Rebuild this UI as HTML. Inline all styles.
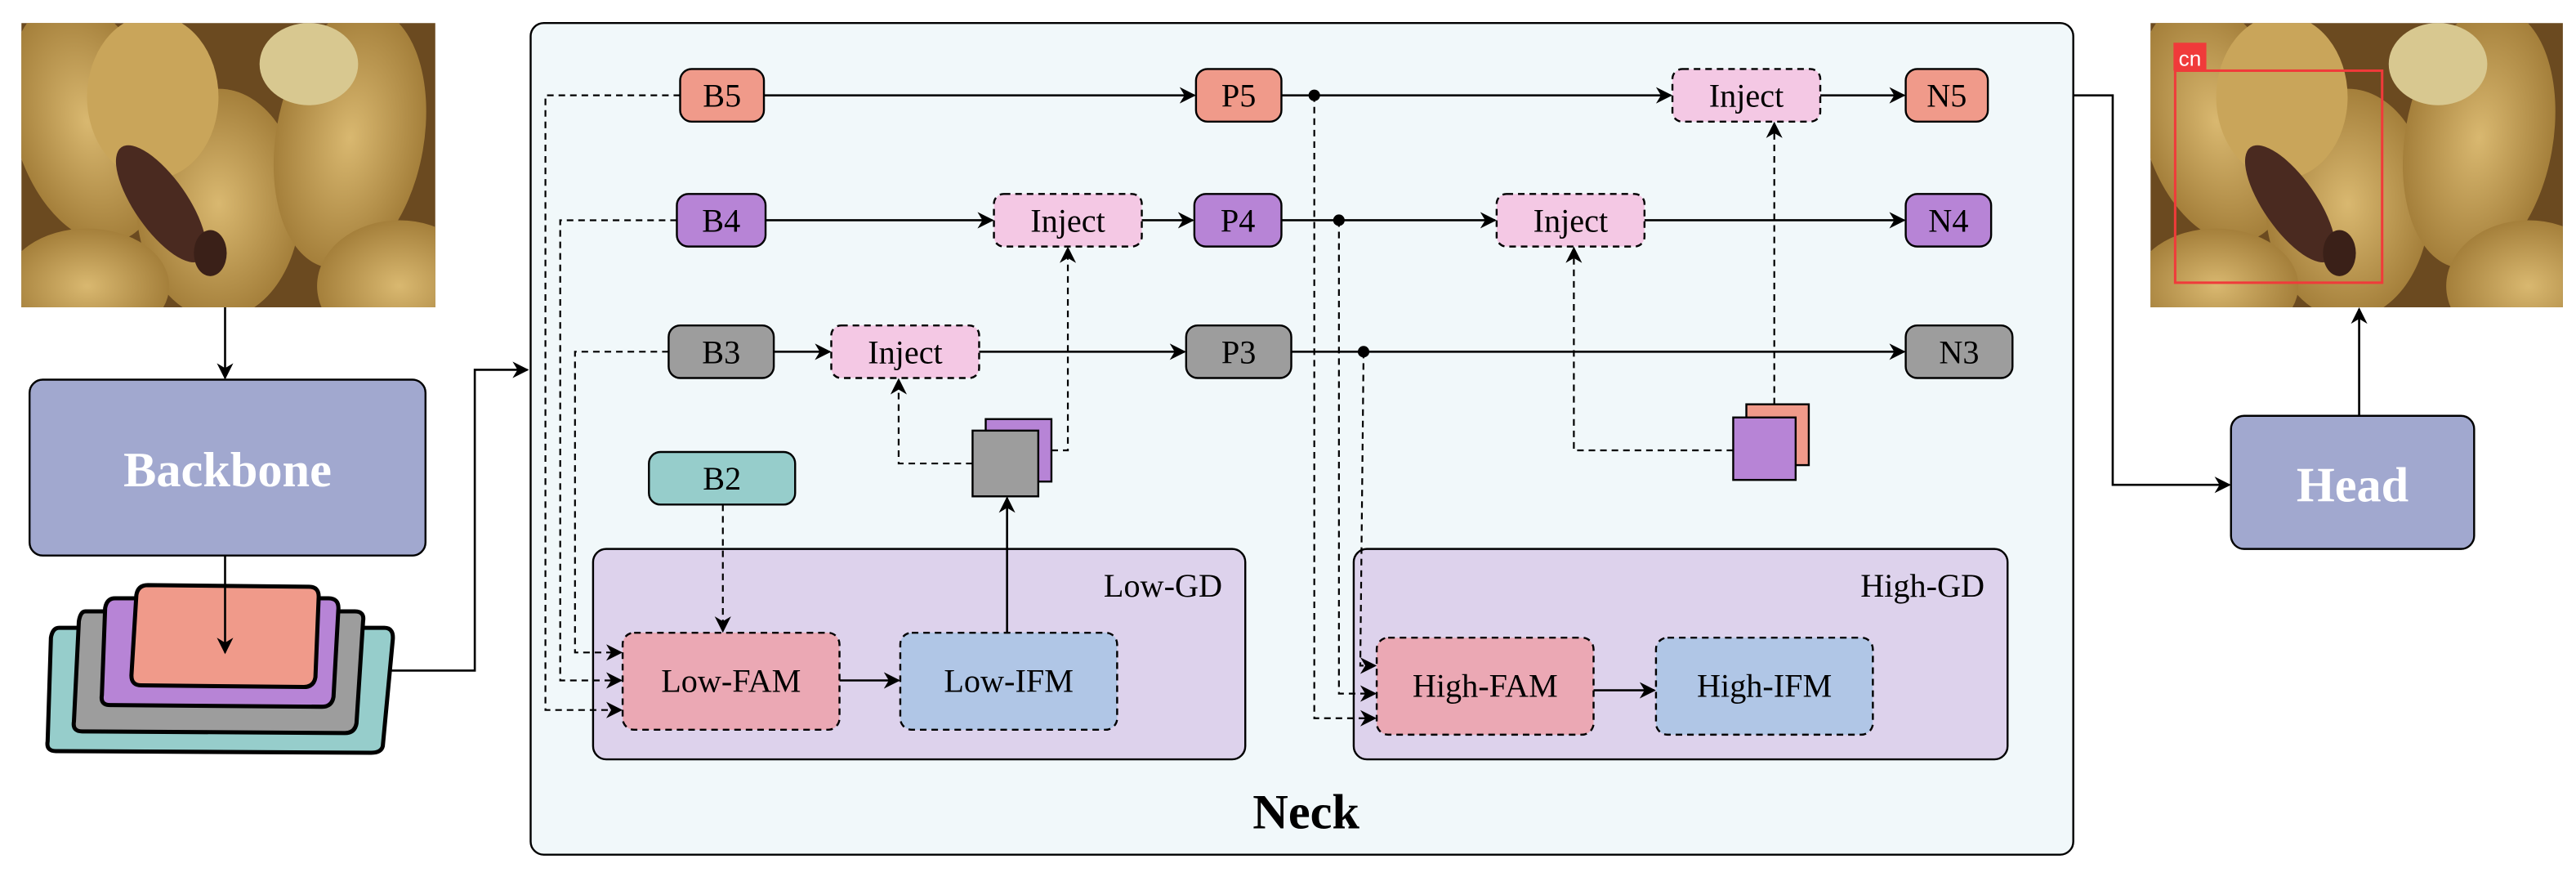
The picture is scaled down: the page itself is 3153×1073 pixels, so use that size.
<!DOCTYPE html>
<html><head><meta charset="utf-8"><style>html,body{margin:0;padding:0;background:#fff}svg{display:block}</style></head><body>
<svg width="3153" height="1073" viewBox="0 0 1568 533.6" preserveAspectRatio="none" xmlns="http://www.w3.org/2000/svg" font-family="'Liberation Serif',serif">
<defs>
<marker id="a" markerWidth="10" markerHeight="10" refX="9" refY="5" orient="auto" markerUnits="userSpaceOnUse"><path d="M0,0 L10,5 L0,10 L3,5 z" fill="#000"/></marker>
<radialGradient id="g1" cx="50%" cy="50%" r="60%"><stop offset="0" stop-color="#d9b870"/><stop offset="1" stop-color="#9a7430"/></radialGradient>
<clipPath id="c1"><rect x="13" y="14" width="252" height="173"/></clipPath>
<clipPath id="c2"><rect x="1309" y="14" width="251" height="173"/></clipPath>
<g id="photo">
<rect x="0" y="0" width="252" height="173" fill="#6b4a20"/>
<ellipse cx="40" cy="60" rx="45" ry="75" fill="url(#g1)" transform="rotate(-15 40 60)"/>
<ellipse cx="120" cy="110" rx="50" ry="70" fill="url(#g1)"/>
<ellipse cx="200" cy="70" rx="45" ry="80" fill="url(#g1)" transform="rotate(10 200 70)"/>
<ellipse cx="175" cy="25" rx="30" ry="25" fill="#d8c890"/>
<ellipse cx="230" cy="160" rx="50" ry="40" fill="url(#g1)"/>
<ellipse cx="40" cy="160" rx="50" ry="35" fill="url(#g1)"/>
<ellipse cx="80" cy="45" rx="40" ry="50" fill="#c9a55a"/>
<ellipse cx="85" cy="110" rx="16" ry="42" fill="#4a2a20" transform="rotate(-35 85 110)"/>
<ellipse cx="115" cy="140" rx="10" ry="14" fill="#3a2018"/>
</g>
</defs>

<g clip-path="url(#c1)"><use href="#photo" x="13" y="14"/></g>
<line x1="137" y1="187" x2="137" y2="230" stroke="#000" stroke-width="1.3" marker-end="url(#a)"/>
<rect x="18" y="231" width="241" height="107" rx="8" fill="#a1a8cf" stroke="#000" stroke-width="1.2"/>
<text x="138.5" y="296" text-anchor="middle" font-size="30" font-weight="bold" fill="#fff">Backbone</text>

<path d="M36,382 L234,382 Q240,382 239,390 L233,454 Q232,458 226,458 L34,457 Q28,457 29,451 L31,388 Q32,382 36,382z" fill="#96cdcb" stroke="#000" stroke-width="2.5"/>
<path d="M52,372 L216,372 Q222,372 221,378 L217,440 Q216,446 210,446 L50,445 Q44,445 45,439 L48,378 Q49,372 52,372z" fill="#9d9d9d" stroke="#000" stroke-width="2.5"/>
<path d="M70,364 L200,364 Q206,364 206,370 L203,424 Q202,430 196,430 L67,429 Q61,429 62,423 L64,370 Q65,364 70,364z" fill="#b784d6" stroke="#000" stroke-width="2.5"/>
<path d="M90,356 L188,357 Q194,357 194,363 L192,412 Q191,418 185,418 L86,417 Q80,417 80,411 L83,362 Q84,356 90,356z" fill="#f09a8a" stroke="#000" stroke-width="2.5"/>
<line x1="137" y1="338" x2="137" y2="397" stroke="#000" stroke-width="1.3" marker-end="url(#a)"/>
<polyline points="238,408 289,408 289,225 321,225" fill="none" stroke="#000" stroke-width="1.3" marker-end="url(#a)"/>

<rect x="323" y="14" width="939" height="506" rx="8" fill="#f1f8fa" stroke="#000" stroke-width="1.2"/>
<text x="795" y="504" text-anchor="middle" font-size="30" font-weight="bold">Neck</text>

<rect x="361" y="334" width="397" height="128" rx="8" fill="#ddd2ec" stroke="#000" stroke-width="1.2"/>
<text x="744" y="363" text-anchor="end" font-size="20">Low-GD</text>
<rect x="824" y="334" width="398" height="128" rx="8" fill="#ddd2ec" stroke="#000" stroke-width="1.2"/>
<text x="1208" y="363" text-anchor="end" font-size="20">High-GD</text>

<g stroke="#000" stroke-width="1.2" stroke-dasharray="4,3">
<rect x="379" y="385" width="132" height="59" rx="7" fill="#eba8b4"/>
<rect x="548" y="385" width="132" height="59" rx="7" fill="#b0c6e6"/>
<rect x="838" y="388" width="132" height="59" rx="7" fill="#eba8b4"/>
<rect x="1008" y="388" width="132" height="59" rx="7" fill="#b0c6e6"/>
<rect x="1018" y="42" width="90" height="32" rx="6" fill="#f4c8e4"/>
<rect x="605" y="118" width="90" height="32" rx="6" fill="#f4c8e4"/>
<rect x="911" y="118" width="90" height="32" rx="6" fill="#f4c8e4"/>
<rect x="506" y="198" width="90" height="32" rx="6" fill="#f4c8e4"/>
</g>
<g font-size="20" text-anchor="middle">
<text x="445" y="421">Low-FAM</text>
<text x="614" y="421">Low-IFM</text>
<text x="904" y="424">High-FAM</text>
<text x="1074" y="424">High-IFM</text>
<text x="1063" y="65">Inject</text>
<text x="650" y="141">Inject</text>
<text x="956" y="141">Inject</text>
<text x="551" y="221">Inject</text>
</g>

<g stroke="#000" stroke-width="1.2">
<rect x="414" y="42" width="51" height="32" rx="7" fill="#f09a8a"/>
<rect x="728" y="42" width="52" height="32" rx="7" fill="#f09a8a"/>
<rect x="1160" y="42" width="50" height="32" rx="7" fill="#f09a8a"/>
<rect x="412" y="118" width="54" height="32" rx="7" fill="#b784d6"/>
<rect x="727" y="118" width="53" height="32" rx="7" fill="#b784d6"/>
<rect x="1160" y="118" width="52" height="32" rx="7" fill="#b784d6"/>
<rect x="407" y="198" width="64" height="32" rx="7" fill="#9d9d9d"/>
<rect x="722" y="198" width="64" height="32" rx="7" fill="#9d9d9d"/>
<rect x="1160" y="198" width="65" height="32" rx="7" fill="#9d9d9d"/>
<rect x="395" y="275" width="89" height="32" rx="7" fill="#96cdcb"/>
</g>
<g font-size="20" text-anchor="middle">
<text x="439.5" y="65">B5</text><text x="754" y="65">P5</text><text x="1185" y="65">N5</text>
<text x="439" y="141">B4</text><text x="753.5" y="141">P4</text><text x="1186" y="141">N4</text>
<text x="439" y="221">B3</text><text x="754" y="221">P3</text><text x="1192.5" y="221">N3</text>
<text x="439.5" y="298">B2</text>
</g>

<rect x="600" y="255" width="40" height="38" fill="#b784d6" stroke="#000" stroke-width="1.2"/>
<rect x="592" y="262" width="40" height="40" fill="#9d9d9d" stroke="#000" stroke-width="1.2"/>
<rect x="1063" y="246" width="38" height="37" fill="#f09a8a" stroke="#000" stroke-width="1.2"/>
<rect x="1055" y="254" width="38" height="38" fill="#b784d6" stroke="#000" stroke-width="1.2"/>

<g stroke="#000" stroke-width="1.3" fill="none" marker-end="url(#a)">
<line x1="465" y1="58" x2="727" y2="58"/>
<line x1="780" y1="58" x2="1017" y2="58"/>
<line x1="1108" y1="58" x2="1159" y2="58"/>
<line x1="466" y1="134" x2="604" y2="134"/>
<line x1="695" y1="134" x2="726" y2="134"/>
<line x1="780" y1="134" x2="910" y2="134"/>
<line x1="1001" y1="134" x2="1159" y2="134"/>
<line x1="471" y1="214" x2="505" y2="214"/>
<line x1="596" y1="214" x2="721" y2="214"/>
<line x1="786" y1="214" x2="1159" y2="214"/>
<line x1="511" y1="414" x2="547" y2="414"/>
<line x1="970" y1="420" x2="1007" y2="420"/>
<line x1="613" y1="385" x2="613" y2="303"/>
<polyline points="1262,58 1286,58 1286,295 1357,295"/>
<line x1="1436" y1="253" x2="1436" y2="188"/>
</g>
<circle cx="800" cy="58" r="3.5"/><circle cx="815" cy="134" r="3.5"/><circle cx="830" cy="214" r="3.5"/>

<g stroke="#000" stroke-width="1.1" fill="none" stroke-dasharray="4,3" marker-end="url(#a)">
<polyline points="414,58 332,58 332,432 378,432"/>
<polyline points="412,134 341,134 341,414 378,414"/>
<polyline points="407,214 350,214 350,397 378,397"/>
<line x1="440" y1="307" x2="440" y2="384"/>
<polyline points="592,282 547,282 547,231"/>
<polyline points="640,274 650,274 650,151"/>
<polyline points="1055,274 958,274 958,151"/>
<line x1="1080" y1="246" x2="1080" y2="75"/>
<polyline points="800,58 800,437 837,437"/>
<polyline points="815,134 815,422 837,422"/>
<polyline points="830,214 828,405 837,405"/>
</g>

<rect x="1358" y="253" width="148" height="81" rx="8" fill="#a1a8cf" stroke="#000" stroke-width="1.2"/>
<text x="1432" y="305" text-anchor="middle" font-size="30" font-weight="bold" fill="#fff">Head</text>

<g clip-path="url(#c2)"><use href="#photo" x="1309" y="14"/></g>
<rect x="1324" y="43" width="126" height="129" fill="none" stroke="#f03a3a" stroke-width="1.5"/>
<rect x="1323" y="26" width="20" height="17" fill="#f03a3a"/>
<text x="1333" y="40" text-anchor="middle" font-family="'Liberation Sans',sans-serif" font-size="13" fill="#fff">cn</text>
</svg>
</body></html>
